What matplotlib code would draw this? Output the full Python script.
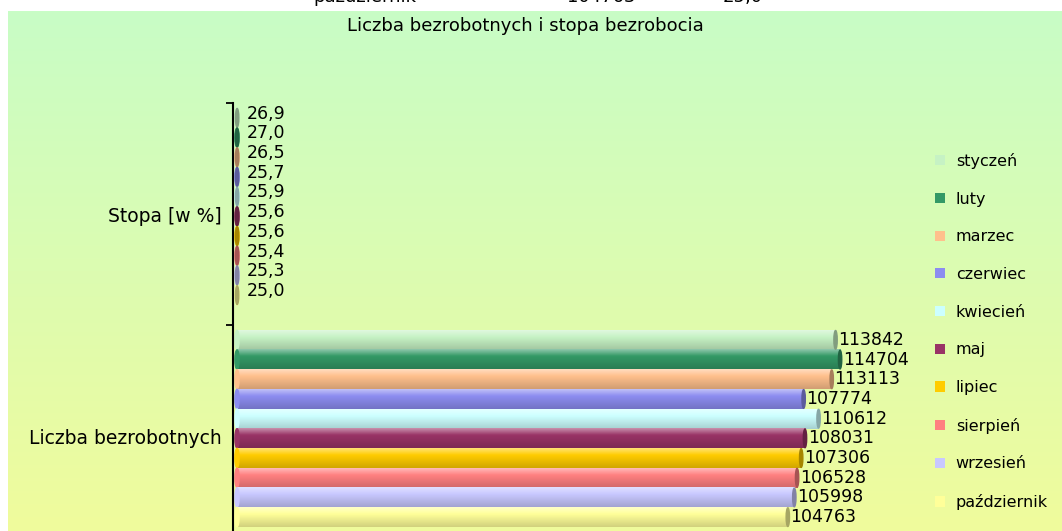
import matplotlib
matplotlib.use("Agg")
import matplotlib.pyplot as plt
import numpy as np
from matplotlib.patches import Ellipse, Patch
from matplotlib.colors import to_rgb

plt.rcParams['font.family'] = ['DejaVu Sans']

# ---- data ----
months = ['styczeń', 'luty', 'marzec', 'czerwiec', 'kwiecień',
          'maj', 'lipiec', 'sierpień', 'wrzesień', 'październik']
categories = ['Stopa [w %]', 'Liczba bezrobotnych']
stopa = [26.9, 27.0, 26.5, 25.7, 25.9, 25.6, 25.6, 25.4, 25.3, 25.0]
liczba = [113842, 114704, 113113, 107774, 110612, 108031, 107306, 106528, 105998, 104763]
colors = ['#C6F2C4', '#339966', '#FFC08C', '#8C8CF0', '#CCFFFF',
          '#993366', '#FFCC00', '#FF8080', '#C8C8FF', '#FFFF99']
title = 'Liczba bezrobotnych i stopa bezrobocia'
# row of the html table above the chart, cut off by the screenshot
table_row = ['październik', '104763', '25,0']

W, H = 1062, 531
fig = plt.figure(figsize=(W / 100, H / 100), dpi=100)
fig.patch.set_facecolor('white')


def shade(c, f):
    r = np.array(to_rgb(c))
    if f > 0:
        return r + (1 - r) * f
    return r * (1 + f)


# background gradient (green on top, yellow at bottom)
bg = fig.add_axes([8 / W, 0, 1 - 8 / W, 520 / H])
bg.set_zorder(-1)
top, bot = np.array(to_rgb('#C8FDC6')), np.array(to_rgb('#F0FB9C'))
t = np.linspace(0, 1, 256)[:, None, None]
bg.imshow(top * (1 - t) + bot * t, aspect='auto', extent=(0, 1, 0, 1))
bg.axis('off')

# main axes: bands of 222 px per category, starting at y=103
ax = fig.add_axes([233 / W, 1 - 547 / H, 667 / W, 444 / H])
ax.patch.set_alpha(0)

bar_h = 19.7 / 222
first = 5 / 222
cap_w = 800


def draw_bar(y, v, c):
    g = np.linspace(0, 1, 40)[:, None]
    light, base, dark = shade(c, 0.45), shade(c, 0), shade(c, -0.18)
    a = np.clip(g / 0.35, 0, 1)
    b = np.clip((g - 0.35) / 0.65, 0, 1)
    img = np.where(g < 0.35, light * (1 - a) + base * a, base * (1 - b) + dark * b)
    ax.imshow(img[:, None, :], extent=(0, v, y + bar_h / 2, y - bar_h / 2),
              aspect='auto', interpolation='bilinear', zorder=2)
    ax.add_patch(Ellipse((0, y), cap_w, bar_h * 0.98, color=base, zorder=2))
    ax.add_patch(Ellipse((v, y), cap_w * 0.8, bar_h * 0.95, color=shade(c, -0.35), zorder=3))


for k, vals in enumerate([stopa, liczba]):
    for i, (v, c) in enumerate(zip(vals, colors)):
        y = k - 0.5 + first + (i + 0.5) * bar_h
        draw_bar(y, v, c)
        if k == 0:
            txt = f'{v:.1f}'.replace('.', ',')
            ax.annotate(txt, (v, y), xytext=(7, 3), textcoords='offset points',
                        va='center', ha='left', fontsize=12.5, zorder=4)
        else:
            ax.annotate(str(v), (v, y), xytext=(2, 0), textcoords='offset points',
                        va='center', ha='left', fontsize=12.5, zorder=4)

ax.set_xlim(-760, 126100)
ax.set_ylim(1.5, -0.5)

# axis styling
for s in ['top', 'right', 'bottom']:
    ax.spines[s].set_visible(False)
ax.spines['left'].set_linewidth(1.5)
ax.set_xticks([])
ax.set_yticks([-0.5, 0.5, 1.5])
ax.set_yticklabels([])
ax.set_yticks([0, 1], minor=True)
ax.set_yticklabels(categories, minor=True, fontsize=13.5)
ax.tick_params(axis='y', which='major', length=5, width=1.3, direction='out')
ax.tick_params(axis='y', which='minor', length=0, pad=8)

# title and the cut-off table row
fig.text(525 / W, 1 - 26 / H, title, ha='center', va='center', fontsize=13)
for x, s in zip([313, 567, 723], table_row):
    fig.text(x / W, 1 - 2 / H, s, ha='left', va='baseline', fontsize=13)

# legend
handles = [Patch(facecolor=c, edgecolor='none', label=m) for m, c in zip(months, colors)]
fig.legend(handles=handles, loc='upper left', bbox_to_anchor=(935 / W, 1 - 153 / H),
           frameon=False, fontsize=11.5, handlelength=0.6, handleheight=0.6,
           handletextpad=0.7, labelspacing=1.42, borderpad=0, borderaxespad=0)

fig.savefig('out.png', dpi=100)
